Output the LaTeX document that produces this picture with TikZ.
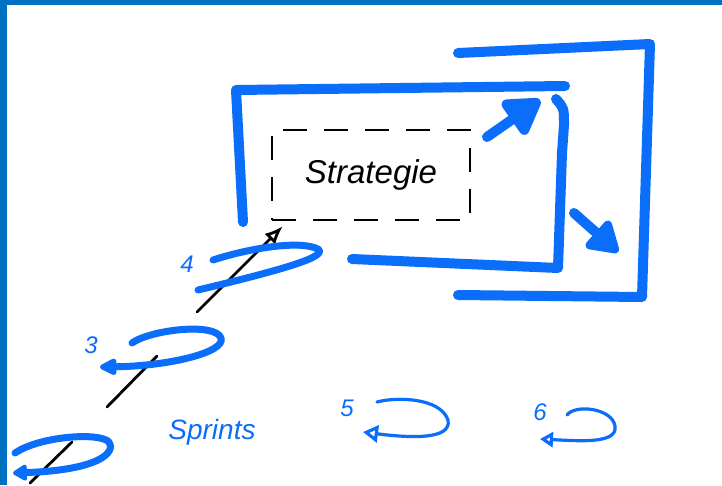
\documentclass[tikz,border=0pt]{standalone}
\usepackage{fontspec}
\setmainfont{Liberation Sans}
\usetikzlibrary{arrows.meta,calc}
\definecolor{sketchblue}{RGB}{10,110,250}
\definecolor{frameblue}{RGB}{0,112,192}
\tikzset{
  bigpen/.style={draw=sketchblue, line width=10pt, line cap=round, line join=round},
  looppen/.style={draw=sketchblue, line width=7pt, line cap=round, line join=round},
  thinloop/.style={draw=sketchblue, line width=3.2pt, line cap=round, line join=round},
  inkpen/.style={draw=black, line width=2.8pt, line cap=round},
  dashbox/.style={draw=black, line width=2.6pt, dash pattern=on 24pt off 17pt, minimum width=198pt, minimum height=90pt, inner sep=0pt},
  bluelabel/.style={text=sketchblue, font=\itshape\fontsize{24}{24}\selectfont, inner sep=0pt},
}
\begin{document}
\begin{tikzpicture}[x=1pt,y=-1pt]
\useasboundingbox (0,0) rectangle (722,485);
\fill[white] (0,0) rectangle (722,485);
% frame
\fill[frameblue] (0,0) rectangle (722,5);
\fill[frameblue] (0,0) rectangle (7,485);

% outer bracket
\draw[bigpen] (458,53) -- (650,44) -- (642,297) -- (458,295);
% inner box
\draw[bigpen] (243,222) -- (236,90) -- (565,86);
\draw[bigpen] (556,99) .. controls (564,108) .. (564,125) -- (562,153) -- (558,268) -- (352,259);
% blue arrows
\draw[bigpen, -{Triangle[length=40pt,width=46pt,round]}] (487,137) -- (540,100);
\draw[bigpen, -{Triangle[length=34pt,width=40pt,round]}] (574,213) -- (618,252);

% strategy box
\node[dashbox, font=\itshape\fontsize{33}{33}\selectfont] (strat) at (371,175) {Strategie};
\coordinate (tip) at ($(strat.south west)+(12,5)$);

% black path of sprints
\coordinate (l1a) at (30,483);
\coordinate (l1b) at (72,442);
\coordinate (l2a) at (107,407);
\coordinate (l2b) at (157,356);
\coordinate (l3a) at (197,312);
\draw[inkpen] (l1a) -- (l1b);
\draw[inkpen] (l2a) -- (l2b);
\draw[inkpen, -{Latex[length=18pt,width=15pt,open]}] (l3a) -- (tip);

% loop 4
\coordinate (s4) at (213,260);
\coordinate (e4) at (198,290);
\draw[looppen] (s4) .. controls (250,248) and (300,240) .. (318,249)
  .. controls (328,256) and (290,268) .. (e4);
\node[bluelabel] (n4) at (187,264) {4};
% loop 3
\coordinate (s3) at (132,343);
\coordinate (e3) at (100,367);
\draw[looppen, -{Triangle[length=20pt,width=18pt,round]}] (s3) .. controls (150,330) and (215,322) .. (221,338)
  .. controls (226,352) and (170,366) .. (e3);
\node[bluelabel] (n3) at (91,345) {3};
% loop bottom-left
\coordinate (s1) at (15,453);
\coordinate (e1) at (13,473);
\draw[looppen, -{Triangle[length=16pt,width=18pt,round]}] (s1) .. controls (40,436) and (100,432) .. (109,442)
  .. controls (116,452) and (100,470) .. (e1);

% Sprints label
\node[bluelabel, font=\itshape\fontsize{28}{28}\selectfont] (spr) at (212,432) {Sprints};

% loop 5
\coordinate (s5) at (377,402);
\coordinate (e5) at (363,432);
\draw[thinloop, -{Triangle[length=15pt,width=17pt,open]}] (s5) .. controls (395,397) and (440,397) .. (448,420)
  .. controls (452,440) and (410,438) .. (e5);
\node[bluelabel] (n5) at (347,408) {5};
% loop 6
\coordinate (s6) at (567,415);
\coordinate (e6) at (540,439);
\draw[thinloop, -{Triangle[length=13pt,width=15pt,open]}] (s6) .. controls (575,404) and (612,408) .. (615,426)
  .. controls (618,444) and (580,441) .. (e6);
\node[bluelabel] (n6) at (540,412) {6};
\end{tikzpicture}
\end{document}
